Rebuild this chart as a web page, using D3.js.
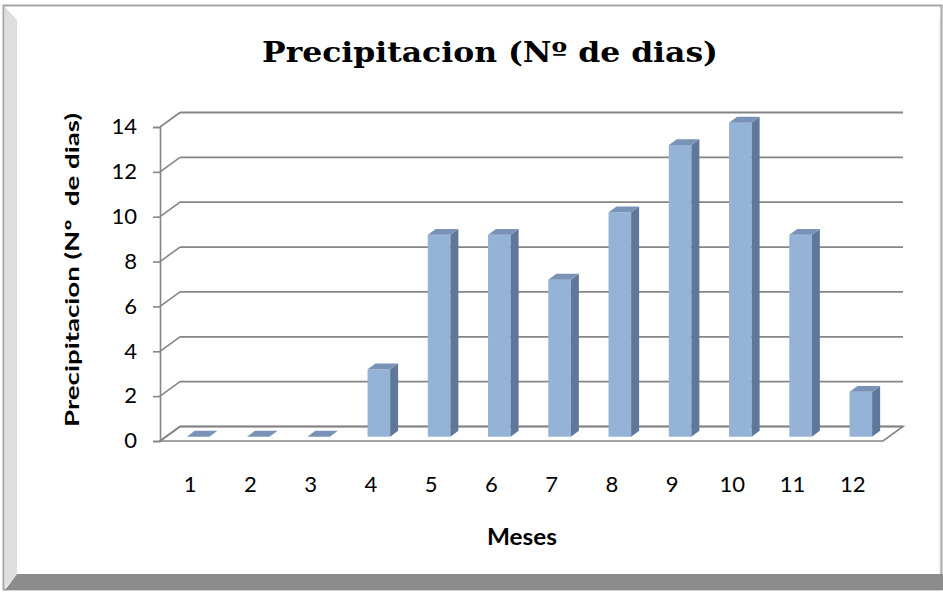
<!DOCTYPE html>
<html>
<head>
<meta charset="utf-8">
<script src="https://cdn.jsdelivr.net/npm/d3@7"></script>
<style>
  html, body { margin: 0; padding: 0; background: #ffffff; }
  svg { display: block; }
  .keep-spaces { white-space: pre; }
</style>
</head>
<body>
<svg id="chart" width="943" height="592"></svg>
<script>
// Monthly rainy days
const months = [1, 2, 3, 4, 5, 6, 7, 8, 9, 10, 11, 12];
const rainDays = [0, 0, 0, 3, 9, 9, 7, 10, 13, 14, 9, 2];
const yTicks = [0, 2, 4, 6, 8, 10, 12, 14];

const titleText = "Precipitacion (Nº de dias)";
const yTitleText = "Precipitacion (Nº  de dias)";
const xTitleText = "Meses";

const sans = "Lato, 'Noto Sans', sans-serif";
const svg = d3.select("#chart");

// ---- frame with bevel ----
const frame = svg.append("g");
frame.append("rect")
  .attr("x", 3.5).attr("y", 5.5).attr("width", 938).attr("height", 584)
  .attr("fill", "#ffffff").attr("stroke", "#a6a6a6").attr("stroke-width", 2);
frame.append("polygon")
  .attr("points", "5,7 17,20 17,574 5,588")
  .attr("fill", "#dedede");
frame.append("polygon")
  .attr("points", "5,590 17,574 943,574 943,590")
  .attr("fill", "#8c8c8c");
frame.append("line")
  .attr("x1", 940.5).attr("x2", 940.5).attr("y1", 18).attr("y2", 574)
  .attr("stroke", "#c8c8c8").attr("stroke-width", 1.5);

// ---- 3D plot geometry ----
const x0 = 160, x1 = 883;          // front edge of floor
const DX = 20, DY = 14.5;          // depth offset of back wall
const y = d3.scaleLinear().domain([0, 14]).range([441, 127]);
const x = d3.scaleBand().domain(months).range([x0, x1]).padding(0);

const gridColor = "#858585";
const grid = svg.append("g");

// floor
grid.append("polygon")
  .attr("points", [[x0, y(0)], [x1, y(0)], [x1 + DX, y(0) - DY], [x0 + DX, y(0) - DY]].map(p => p.join(",")).join(" "))
  .attr("fill", "none").attr("stroke", gridColor).attr("stroke-width", 1.6);

// back wall gridlines and side-wall diagonals
yTicks.forEach(t => {
  grid.append("line")
    .attr("x1", x0 + DX).attr("x2", x1 + DX)
    .attr("y1", y(t) - DY).attr("y2", y(t) - DY)
    .attr("stroke", gridColor).attr("stroke-width", 1.8);
  grid.append("line")
    .attr("x1", x0).attr("x2", x0 + DX)
    .attr("y1", y(t)).attr("y2", y(t) - DY)
    .attr("stroke", gridColor).attr("stroke-width", 1.6);
});

// digits are drawn slightly wide
const digitWidth = 12.8;

// value axis
const yAxis = svg.append("g")
  .attr("transform", `translate(${x0},0)`)
  .call(d3.axisLeft(y).tickValues(yTicks).tickSize(7).tickPadding(16));
yAxis.select(".domain").attr("stroke", gridColor).attr("stroke-width", 1.6);
yAxis.selectAll(".tick line").attr("stroke", gridColor).attr("stroke-width", 1.6);
yAxis.selectAll(".tick text")
  .attr("font-family", sans)
  .attr("font-size", 21).attr("fill", "#000")
  .attr("textLength", d => String(d).length * digitWidth)
  .attr("lengthAdjust", "spacingAndGlyphs");

// category axis labels
const xAxis = svg.append("g")
  .attr("transform", `translate(0,${y(0)})`)
  .call(d3.axisBottom(x).tickSize(0).tickPadding(36));
xAxis.select(".domain").remove();
xAxis.selectAll(".tick text")
  .attr("font-family", sans)
  .attr("font-size", 21).attr("fill", "#000")
  .attr("textLength", d => String(d).length * digitWidth)
  .attr("lengthAdjust", "spacingAndGlyphs");

// ---- 3D columns ----
const z0 = 0.3, z1 = 0.7;
const bw = x.bandwidth() * 0.375;
const bOff = x.bandwidth() * 0.345;
const data = months.map((m, i) => ({ m, v: rainDays[i] }));

const bars = svg.append("g").selectAll("g").data(data).join("g");
const P = (px, v, z) => [px + z * DX, y(v) - z * DY];
const pts = arr => arr.map(p => p.join(",")).join(" ");

bars.each(function (d) {
  const g = d3.select(this);
  const L = x(d.m) + bOff, R = L + bw;
  if (d.v > 0) {
    g.append("polygon")
      .attr("points", pts([P(L, d.v, z0), P(R, d.v, z0), P(R, 0, z0), P(L, 0, z0)]))
      .attr("fill", "#95b3d7");
    g.append("polygon")
      .attr("points", pts([P(R, d.v, z0), P(R, d.v, z1), P(R, 0, z1), P(R, 0, z0)]))
      .attr("fill", "#5f7899");
  }
  g.append("polygon")
    .attr("points", pts([P(L, d.v, z0), P(R, d.v, z0), P(R, d.v, z1), P(L, d.v, z1)]))
    .attr("fill", "#7893b5");
});

// ---- titles ----
svg.append("text")
  .attr("x", 490).attr("y", 62)
  .attr("text-anchor", "middle")
  .attr("font-family", "'Palatino Linotype', 'Book Antiqua', 'DejaVu Serif', serif")
  .attr("font-weight", "bold").attr("font-size", 27.5)
  .attr("textLength", 456).attr("lengthAdjust", "spacingAndGlyphs")
  .text(titleText);

svg.append("text")
  .attr("class", "keep-spaces")
  .attr("transform", "translate(79,270) rotate(-90)")
  .attr("text-anchor", "middle")
  .attr("font-family", sans)
  .attr("font-weight", "bold").attr("font-size", 19.5)
  .attr("textLength", 314).attr("lengthAdjust", "spacingAndGlyphs")
  .text(yTitleText);

svg.append("text")
  .attr("x", 522).attr("y", 545)
  .attr("text-anchor", "middle")
  .attr("font-family", sans)
  .attr("font-weight", "bold").attr("font-size", 23)
  .attr("textLength", 70).attr("lengthAdjust", "spacingAndGlyphs")
  .text(xTitleText);
</script>
</body>
</html>
